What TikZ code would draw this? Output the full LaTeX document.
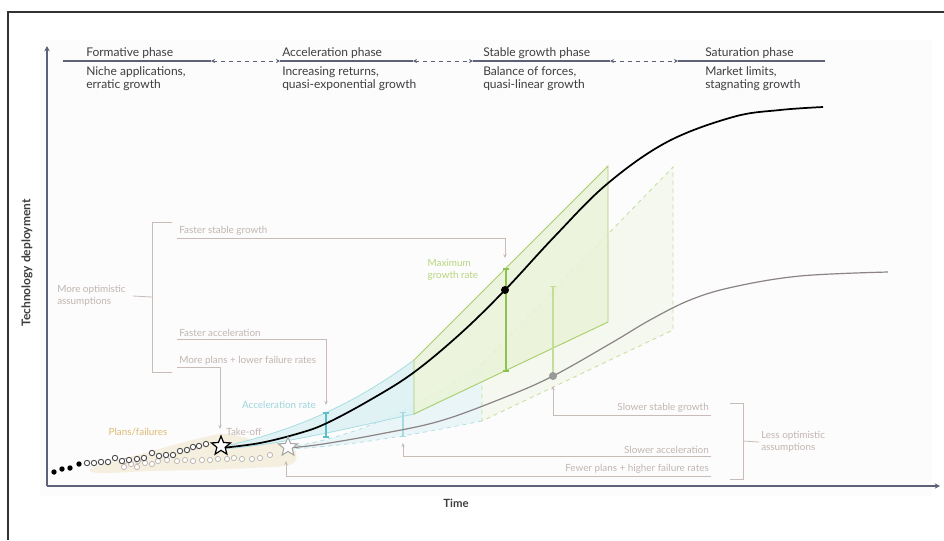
\documentclass[tikz,border=0pt]{standalone}
\usepackage{fontspec}
\setmainfont{Lato}
\usetikzlibrary{arrows.meta,shapes.geometric}

\definecolor{axisc}{HTML}{5E6278}
\definecolor{headtxt}{HTML}{3E3E40}
\definecolor{annottxtc}{HTML}{C2B6B0}
\definecolor{annotlinec}{HTML}{C9BCB6}
\definecolor{tealtxt}{HTML}{9ED6DB}
\definecolor{tealbar}{HTML}{5CBEC6}
\definecolor{teallight}{HTML}{A6DCE1}
\definecolor{bluefill}{HTML}{DDF1F4}
\definecolor{blueedge}{HTML}{A9DDE2}
\definecolor{greenfill}{HTML}{EBF3D8}
\definecolor{greenedge}{HTML}{A8CF6C}
\definecolor{greenbar}{HTML}{8DC253}
\definecolor{greenlight}{HTML}{C3DE98}
\definecolor{greentxt}{HTML}{B8D57E}
\definecolor{pessline}{HTML}{8C8383}
\definecolor{plansfill}{HTML}{F5EEDC}
\definecolor{planstxt}{HTML}{DDBB72}
\definecolor{dotdark}{HTML}{4A4A4A}
\definecolor{dotlight}{HTML}{BDB7B4}
\definecolor{panelbg}{HTML}{FCFCFD}

\begin{document}
\begin{tikzpicture}[x=0.75pt,y=-0.75pt,
  headtitle/.style={font=\fontsize{9}{10.5}\selectfont, text=headtxt, anchor=west, inner sep=0pt},
  headdesc/.style={font=\fontsize{9}{9.9}\selectfont, text=headtxt, anchor=west, align=left, inner sep=0pt},
  annottxt/.style={font=\fontsize{7.4}{8.8}\selectfont, text=annottxtc, inner sep=1.5pt},
  annotarrow/.style={draw=annotlinec, line width=0.6pt, -{Stealth[length=3pt,width=2.6pt]}},
  annotline/.style={draw=annotlinec, line width=0.6pt},
  axisline/.style={draw=axisc, line width=1.2pt},
  phaseline/.style={draw=axisc, line width=1.1pt},
  phasegap/.style={draw=axisc, line width=0.7pt, dashed,
    {Stealth[length=3pt,width=3pt]}-{Stealth[length=3pt,width=3pt]}},
  opendot/.style={draw=dotdark, line width=0.7pt, fill=white},
  lightdot/.style={draw=dotlight, line width=0.6pt, fill=white},
  ratebar/.style={{Bar[width=5pt]}-{Bar[width=5pt]}},
]
\useasboundingbox (0,0) rectangle (944,540);

% page frame and faint panel
\draw[line width=0.8pt, draw=black!80] (8,540) -- (8,12) -- (944,12);
\fill[panelbg] (40,40) rectangle (932,496);

% ---------- phase header ----------
\coordinate (h0) at (63,61);  \coordinate (h1) at (211,61);
\coordinate (h2) at (280,61); \coordinate (h3) at (413,61);
\coordinate (h4) at (473,61); \coordinate (h5) at (610,61);
\coordinate (h6) at (678,61); \coordinate (h7) at (825,61);
\draw[phaseline] (h0) -- (h1);
\draw[phaseline] (h2) -- (h3);
\draw[phaseline] (h4) -- (h5);
\draw[phaseline] (h6) -- (h7);
\draw[phasegap] (h1) -- (h2);
\draw[phasegap] (h3) -- (h4);
\draw[phasegap] (h5) -- (h6);

\node[headtitle] (t1) at (86,53) {Formative phase};
\node[headtitle] (t2) at (282,53) {Acceleration phase};
\node[headtitle] (t3) at (483,53) {Stable growth phase};
\node[headtitle] (t4) at (705,53) {Saturation phase};
\node[headdesc] (d1) at (86,79) {Niche applications,\\erratic growth};
\node[headdesc] (d2) at (282,79) {Increasing returns,\\quasi-exponential growth};
\node[headdesc] (d3) at (483,79) {Balance of forces,\\quasi-linear growth};
\node[headdesc] (d4) at (705,79) {Market limits,\\stagnating growth};

% ---------- axes ----------
\coordinate (origin) at (47,486);
\coordinate (ytip) at (47,46);
\coordinate (xtip) at (940,486);
\draw[axisline, -{Stealth[length=4pt,width=4pt]}] (origin) -- (ytip);
\draw[axisline, -{Stealth[length=4pt,width=4pt]}] (origin) -- (xtip);
\node[font=\fontsize{9}{10}\selectfont\bfseries, text=headtxt, rotate=90] (ylab) at (27,263) {Technology deployment};
\node[font=\fontsize{8.5}{10}\selectfont\bfseries, text=headtxt] (xlab) at (456,503) {Time};

% ---------- plans / failures band ----------
\fill[plansfill, opacity=0.9] plot[smooth cycle, tension=0.6] coordinates
  {(92,468) (130,457) (170,446) (205,437) (228,434) (262,442) (292,446)
   (292,464) (250,468) (200,470) (150,471) (100,473)};

% ---------- less optimistic ranges (behind) ----------
\fill[bluefill, opacity=0.55] (289,447) .. controls (368,435) and (428,400) .. (482,364)
  -- (482,421) .. controls (408,436) and (348,446) .. (289,449) -- cycle;
\draw[blueedge, dashed, line width=0.5pt] (289,447) .. controls (368,435) and (428,400) .. (482,364);
\draw[blueedge, dashed, line width=0.5pt] (482,421) .. controls (408,436) and (348,446) .. (289,449);
\filldraw[fill=greenfill, fill opacity=0.4, draw=greenlight, dashed, line width=0.6pt]
  (482,364) -- (673,167) -- (673,330) -- (482,421) -- cycle;

% ---------- more optimistic ranges ----------
\fill[bluefill, opacity=0.9] (221,447) .. controls (300,430) and (360,400) .. (414,360)
  -- (414,414) .. controls (340,430) and (280,445) .. (221,449) -- cycle;
\draw[blueedge, line width=0.6pt] (221,447) .. controls (300,430) and (360,400) .. (414,360);
\draw[blueedge, line width=0.6pt] (414,414) .. controls (340,430) and (280,445) .. (221,449);
\filldraw[fill=greenfill, fill opacity=0.85, draw=greenedge, line width=0.7pt]
  (414,360) -- (608,166) -- (608,322) -- (414,414) -- cycle;

% ---------- rate bars ----------
\coordinate (accTop) at (326,412);  \coordinate (accBot) at (326,438);
\coordinate (accTopP) at (403,412); \coordinate (accBotP) at (403,437);
\coordinate (maxTop) at (506,268);  \coordinate (maxBot) at (506,372);
\coordinate (maxTopP) at (553,286); \coordinate (maxBotP) at (553,376);
\draw[teallight, line width=0.8pt, ratebar] (accTopP) -- (accBotP);
\draw[greenlight, line width=0.9pt, {Bar[width=5pt]}-] (maxTopP) -- (maxBotP);
\draw[tealbar, line width=1.2pt, ratebar] (accTop) -- (accBot);
\draw[greenbar, line width=1.3pt, ratebar] (maxTop) -- (maxBot);

% ---------- early data points ----------
\foreach \p in {(54,472),(62,469),(70,468),(79,464)}
  \fill[black] \p circle[radius=2.7];
\foreach \p in {(124,467),(131,464),(137,467),(145,463),(152,464),(158,461),(167,460),(177,461),
  (185,460),(193,461),(202,460),(210,460),(218,459),(227,459),(234,458),(242,459),(252,459),
  (260,458),(270,455),(125,461),(138,461)}
  \draw[lightdot] \p circle[radius=2.6];
\foreach \p in {(87,463),(94,463),(101,462),(108,462),(115,458),(122,461),(129,460),(137,459),
  (144,458),(152,453),(159,456),(166,455),(173,455),(180,451),(187,450),(193,447),(199,446),(206,444)}
  \draw[opendot] \p circle[radius=2.7];

% ---------- deployment curves ----------
\draw[pessline, line width=0.9pt] plot[smooth, tension=0.6] coordinates
  {(289,448) (323,444) (380,434) (440,421) (503,398) (553,376) (613,342) (650,320)
   (690,300) (733,287) (800,276) (888,272)};
\draw[black, line width=1.3pt] plot[smooth, tension=0.6] coordinates
  {(221,448) (260,443) (300,433) (327,423) (370,400) (413,373) (460,334) (505,290)
   (555,236) (607,184) (667,142) (733,117) (780,110) (823,107)};
\node[circle, fill=black, inner sep=0pt, minimum size=6pt] (inflect) at (505,290) {};
\node[circle, fill=black!40, inner sep=0pt, minimum size=6pt] (inflectP) at (553,376) {};

\node[star, star points=5, star point ratio=2.3, minimum size=15pt, inner sep=0pt,
  draw=black, fill=white, line width=0.9pt] (takeoff) at (221,446) {};
\node[star, star points=5, star point ratio=2.3, minimum size=15pt, inner sep=0pt,
  draw=black!35, fill=white, line width=0.8pt] (takeoffP) at (288,447) {};

% ---------- in-chart labels ----------
\node[font=\fontsize{7.4}{8.8}\selectfont, text=planstxt] (plans) at (138,432) {Plans/failures};
\node[font=\fontsize{7.4}{8.8}\selectfont, text=annottxtc] (tko) at (244,432) {Take-off};
\node[font=\fontsize{7.4}{8.8}\selectfont, text=tealtxt] (accl) at (279,405) {Acceleration rate};
\node[font=\fontsize{7.4}{8.8}\selectfont, text=greentxt, align=left, anchor=west] (maxl) at (423,270)
  {Maximum\\growth rate};

% ---------- more optimistic assumptions ----------
\node[annottxt, anchor=south west] (fsg) at (177,238) {Faster stable growth};
\node[annottxt, anchor=south west] (fac) at (177,339) {Faster acceleration};
\node[annottxt, anchor=south west] (mpl) at (177,367) {More plans + lower failure rates};
\coordinate (fsgT) at (505,258);
\coordinate (facT) at (326,405);
\coordinate (mplT) at (220,429);
\draw[annotarrow] (fsg.south west) -| (fsgT);
\draw[annotarrow] (fac.south west) -| (facT);
\draw[annotarrow] (mpl.south west) -| (mplT);

\node[annottxt, align=left, anchor=west] (moa) at (55,296) {More optimistic\\assumptions};
\coordinate (lbTop) at (172,222);
\coordinate (lbBot) at (172,372);
\coordinate (lbMid) at (152,297);
\draw[annotline] (lbTop) -- (152,222) -- (152,372) -- (lbBot);
\draw[annotline] (moa.east) ++(5,0) -- (lbMid);

% ---------- less optimistic assumptions ----------
\node[annottxt, anchor=south east] (ssg) at (711,415) {Slower stable growth};
\node[annottxt, anchor=south east] (sac) at (711,456) {Slower acceleration};
\node[annottxt, anchor=south east] (fpl) at (711,476) {Fewer plans + higher failure rates};
\coordinate (ssgT) at (553,386);
\coordinate (sacT) at (403,443);
\coordinate (fplT) at (286,461);
\draw[annotarrow] (ssg.south east) -| (ssgT);
\draw[annotarrow] (sac.south east) -| (sacT);
\draw[annotarrow] (fpl.south east) -| (fplT);

\node[annottxt, align=left, anchor=west] (loa) at (759,442) {Less optimistic\\assumptions};
\coordinate (rbTop) at (730,403);
\coordinate (rbBot) at (730,479);
\coordinate (rbMid) at (743,441);
\draw[annotline] (rbTop) -- (743,403) -- (743,479) -- (rbBot);
\draw[annotline] (rbMid) -- (loa.west);
\end{tikzpicture}
\end{document}
